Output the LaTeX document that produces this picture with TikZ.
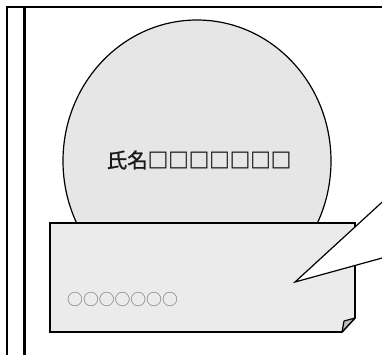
\documentclass[tikz,border=0pt]{standalone}
\usepackage{fontspec}
\usetikzlibrary{shapes.geometric}
\newfontfamily\cjk{Noto Sans CJK JP}
\newfontfamily\cjkmid[FakeBold=1.2]{Noto Sans CJK JP}
\definecolor{ballfill}{HTML}{E6E6E6}
\definecolor{cardfill}{HTML}{EBEBEB}
\definecolor{foldfill}{HTML}{BDBDBD}
\definecolor{hintgray}{HTML}{707070}
\tikzset{
  frameline/.style={line width=2.4pt, black},
  ball/.style={draw=black, line width=1.2pt, fill=ballfill},
  card/.style={draw=black, line width=1.6pt, fill=cardfill, line join=miter},
  fold/.style={draw=black, line width=1.2pt, fill=foldfill, line join=round},
  bubble/.style={line width=1.2pt, draw=black},
}
\begin{document}
\begin{tikzpicture}[x=1pt,y=-1pt]
\useasboundingbox (0,0) rectangle (382,354);
% outer frame
\draw[frameline] (7,420) -- (7,7) -- (420,7);
\draw[frameline] (24.5,7) -- (24.5,420);
% ball
\node[ball, ellipse, minimum width=268pt, minimum height=282pt, inner sep=0pt] (ballshape) at (197,161) {};
\node[font=\cjkmid\fontsize{20.5}{24}\selectfont, text=black!90] (name) at (199,160) {氏名□□□□□□□};
% card with folded corner
\coordinate (c1) at (50,223);
\coordinate (c2) at (355,223);
\coordinate (c3) at (355,318);
\coordinate (c4) at (342,332);
\coordinate (c5) at (50,332);
\coordinate (cf) at (344,321);
\draw[card] (c1) -- (c2) -- (c3) -- (c4) -- (c5) -- cycle;
\draw[fold] (c3) -- (cf) -- (c4) -- cycle;
\node[font=\cjk\fontsize{15.8}{18}\selectfont, text=hintgray, anchor=west, inner sep=0pt] (hint) at (67,299) {○○○○○○○};
% speech bubble pointer
\coordinate (tip) at (295,282);
\coordinate (bu) at (405,181.1);
\coordinate (bl) at (405,251.7);
\fill[white] (tip) -- (bu) -- (440,150) -- (440,260) -- (bl) -- cycle;
\draw[bubble] (bl) -- (tip) -- (bu);
\end{tikzpicture}
\end{document}
